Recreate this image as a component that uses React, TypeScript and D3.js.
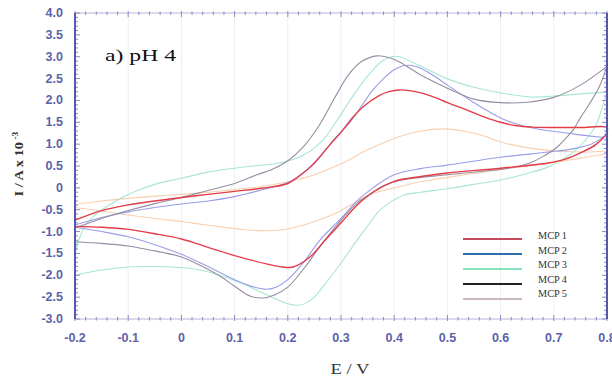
import React from "react";
import * as d3 from "d3";

// ---- data (E in V, I in A x 10^-3) ----
const E_TICKS = [-0.2, -0.1, 0, 0.1, 0.2, 0.3, 0.4, 0.5, 0.6, 0.7, 0.8];
const E_LABELS = ["-0.2", "-0.1", "0", "0.1", "0.2", "0.3", "0.4", "0.5", "0.6", "0.7", "0.8"];
const I_TICKS = [4, 3.5, 3, 2.5, 2, 1.5, 1, 0.5, 0, -0.5, -1, -1.5, -2, -2.5, -3];
const I_LABELS = ["4.0", "3.5", "3.0", "2.5", "2.0", "1.5", "1.0", "0.5", "0", "-0.5", "-1.0", "-1.5", "-2.0", "-2.5", "-3.0"];

const SERIES_NAMES = ["MCP 1", "MCP 2", "MCP 3", "MCP 4", "MCP 5"];

const mcp1Forward = [[-0.2,-0.74],[-0.15,-0.52],[-0.1,-0.39],[-0.05,-0.3],[0,-0.22],[0.05,-0.15],[0.1,-0.08],[0.15,-0.01],[0.2,0.1],[0.23,0.35],[0.255,0.64],[0.28,1.0],[0.3,1.27],[0.32,1.58],[0.341,1.85],[0.37,2.1],[0.39,2.2],[0.41,2.24],[0.44,2.2],[0.47,2.1],[0.5,1.95],[0.537,1.78],[0.57,1.62],[0.6,1.5],[0.63,1.42],[0.66,1.39],[0.7,1.38],[0.75,1.38],[0.8,1.38]];
const mcp1Reverse = [[0.8,1.28],[0.78,1.0],[0.75,0.8],[0.72,0.65],[0.69,0.57],[0.6,0.45],[0.5,0.34],[0.45,0.26],[0.4,0.15],[0.36,-0.1],[0.33,-0.4],[0.3,-0.8],[0.27,-1.2],[0.24,-1.6],[0.21,-1.81],[0.19,-1.81],[0.16,-1.74],[0.1,-1.55],[0.05,-1.36],[0,-1.17],[-0.05,-1.05],[-0.1,-0.95],[-0.15,-0.9],[-0.2,-0.88]];

const mcp2Forward = [[-0.2,-0.85],[-0.15,-0.68],[-0.1,-0.55],[-0.05,-0.45],[0,-0.37],[0.05,-0.3],[0.1,-0.2],[0.15,-0.05],[0.2,0.12],[0.23,0.35],[0.25,0.55],[0.27,0.85],[0.29,1.15],[0.317,1.5],[0.34,1.9],[0.36,2.24],[0.38,2.5],[0.4,2.7],[0.42,2.8],[0.44,2.78],[0.47,2.6],[0.5,2.35],[0.537,2.05],[0.57,1.8],[0.6,1.6],[0.63,1.46],[0.66,1.37],[0.72,1.26],[0.8,1.17]];
const mcp2Reverse = [[0.8,1.2],[0.77,1.0],[0.73,0.88],[0.69,0.82],[0.6,0.7],[0.5,0.52],[0.45,0.44],[0.4,0.3],[0.36,0.0],[0.33,-0.3],[0.3,-0.7],[0.26,-1.2],[0.23,-1.7],[0.2,-2.1],[0.18,-2.26],[0.16,-2.32],[0.14,-2.28],[0.1,-2.1],[0.05,-1.8],[0,-1.52],[-0.05,-1.3],[-0.1,-1.12],[-0.15,-1.0],[-0.2,-0.9]];

const mcp3Forward = [[-0.2,-1.5],[-0.19,-1.1],[-0.18,-0.85],[-0.16,-0.6],[-0.13,-0.35],[-0.1,-0.15],[-0.05,0.08],[0,0.22],[0.05,0.36],[0.1,0.45],[0.15,0.52],[0.19,0.58],[0.23,0.75],[0.266,1.09],[0.29,1.5],[0.317,2.0],[0.34,2.4],[0.355,2.63],[0.375,2.88],[0.395,3.0],[0.41,3.0],[0.45,2.78],[0.505,2.47],[0.55,2.3],[0.6,2.17],[0.66,2.08],[0.7,2.1],[0.75,2.15],[0.8,2.19]];
const mcp3Reverse = [[0.8,2.19],[0.79,1.8],[0.78,1.45],[0.76,1.1],[0.74,0.85],[0.72,0.68],[0.69,0.48],[0.65,0.33],[0.6,0.18],[0.55,0.08],[0.5,-0.02],[0.45,-0.1],[0.42,-0.16],[0.39,-0.35],[0.37,-0.55],[0.354,-0.81],[0.33,-1.2],[0.3,-1.72],[0.27,-2.2],[0.245,-2.55],[0.223,-2.68],[0.2,-2.65],[0.17,-2.5],[0.142,-2.34],[0.1,-2.12],[0.05,-1.92],[0.016,-1.84],[-0.05,-1.8],[-0.1,-1.81],[-0.15,-1.88],[-0.2,-2.0]];

const mcp4Forward = [[-0.2,-0.92],[-0.15,-0.7],[-0.1,-0.52],[-0.05,-0.36],[0,-0.22],[0.05,-0.06],[0.1,0.1],[0.142,0.3],[0.17,0.42],[0.2,0.62],[0.23,0.95],[0.26,1.45],[0.29,2.1],[0.315,2.6],[0.34,2.9],[0.368,3.02],[0.39,2.98],[0.41,2.88],[0.45,2.58],[0.5,2.28],[0.55,2.03],[0.6,1.95],[0.65,1.96],[0.7,2.07],[0.75,2.35],[0.8,2.78]];
const mcp4Reverse = [[0.8,2.78],[0.785,2.3],[0.768,1.94],[0.75,1.6],[0.736,1.32],[0.72,1.1],[0.706,0.93],[0.68,0.72],[0.655,0.57],[0.62,0.46],[0.6,0.42],[0.5,0.3],[0.41,0.17],[0.38,0.05],[0.36,-0.1],[0.33,-0.35],[0.3,-0.74],[0.26,-1.35],[0.23,-1.85],[0.2,-2.27],[0.175,-2.45],[0.153,-2.52],[0.13,-2.48],[0.1,-2.25],[0.07,-2.0],[0.035,-1.77],[0,-1.58],[-0.06,-1.42],[-0.1,-1.33],[-0.15,-1.27],[-0.2,-1.24]];

const mcp5Forward = [[-0.2,-0.38],[-0.15,-0.3],[-0.1,-0.24],[-0.05,-0.19],[0,-0.15],[0.05,-0.1],[0.1,-0.04],[0.15,0.03],[0.2,0.14],[0.25,0.3],[0.3,0.55],[0.35,0.87],[0.4,1.13],[0.45,1.3],[0.49,1.35],[0.53,1.3],[0.57,1.18],[0.6,1.05],[0.65,0.92],[0.7,0.85],[0.75,0.82],[0.8,0.82]];
const mcp5Reverse = [[0.8,0.8],[0.75,0.68],[0.7,0.58],[0.65,0.5],[0.6,0.42],[0.55,0.33],[0.5,0.24],[0.45,0.14],[0.4,0.0],[0.36,-0.13],[0.32,-0.38],[0.29,-0.58],[0.266,-0.7],[0.23,-0.85],[0.2,-0.94],[0.16,-0.98],[0.12,-0.96],[0.08,-0.9],[0.04,-0.84],[0,-0.77],[-0.05,-0.7],[-0.1,-0.62],[-0.15,-0.53],[-0.2,-0.45]];

const CURVE_COLORS = ["#e33c46", "#9a9ee8", "#a9e6d0", "#958ea2", "#f8d0b0"];
const CURVE_WIDTHS = [1.4, 1.1, 1.1, 1.1, 1.1];
const LEGEND_COLORS = ["#c8485e", "#2e6eaa", "#86e2b8", "#222222", "#c9b9b9"];
const DRAW_ORDER = [4, 2, 1, 3, 0];

export default function App() {
  const W = 612, H = 383;
  const x = d3.scaleLinear().domain([-0.2, 0.8]).range([75, 607]);
  const y = d3.scaleLinear().domain([-3, 4]).range([319, 13]);
  const loops = [
    mcp1Forward.concat(mcp1Reverse),
    mcp2Forward.concat(mcp2Reverse),
    mcp3Forward.concat(mcp3Reverse),
    mcp4Forward.concat(mcp4Reverse),
    mcp5Forward.concat(mcp5Reverse),
  ];
  const line = d3
    .line<number[]>()
    .x((d) => x(d[0]))
    .y((d) => y(d[1]))
    .curve(d3.curveCatmullRom.alpha(0.5));

  const minorX = d3.range(-0.2, 0.8001, 0.02);
  const minorY = d3.range(-3, 4.0001, 0.1);
  const axisCol = "#5656ad";
  const tickCol = "#8a8ac4";
  const labelCol = "#5d61a8";
  const sans = "'Liberation Sans', Arial, sans-serif";
  const serif = "'Liberation Serif', 'Times New Roman', serif";
  const [x0, x1] = x.range();
  const [y0, y1] = [y(4), y(-3)];

  return (
    <svg width={W} height={H} style={{ position: "absolute", left: 0, top: 0, background: "#fff" }}>
      <rect x={0} y={0} width={W} height={H} fill="#fff" />
      {/* faint grid */}
      {E_TICKS.slice(1, -1).map((t) => (
        <line key={"g" + t} x1={x(t)} x2={x(t)} y1={y0} y2={y1} stroke="#eeeef6" strokeWidth={1} />
      ))}
      {/* curves */}
      {DRAW_ORDER.map((i) => (
        <path key={"c" + i} d={line(loops[i] as any) || ""} fill="none" stroke={CURVE_COLORS[i]} strokeWidth={CURVE_WIDTHS[i]} strokeLinejoin="round" />
      ))}
      {/* top & bottom frame */}
      <line x1={x0} x2={x1} y1={y0} y2={y0} stroke="#b4b4da" strokeWidth={1} />
      <line x1={x0} x2={x1} y1={y1} y2={y1} stroke="#b4b4da" strokeWidth={1} />
      {minorX.map((t, k) => {
        const major = k % 5 === 0;
        return (
          <g key={"tx" + k}>
            <line x1={x(t)} x2={x(t)} y1={y0 - (major ? 2 : 1.5)} y2={y0 + (major ? 4 : 2)} stroke={tickCol} strokeWidth={1} />
            <line x1={x(t)} x2={x(t)} y1={y1 + (major ? 2 : 1.5)} y2={y1 - (major ? 4 : 2)} stroke={tickCol} strokeWidth={1} />
          </g>
        );
      })}
      {/* left & right axes */}
      {minorY.map((t, k) => {
        const major = k % 5 === 0;
        return (
          <g key={"ty" + k}>
            <line x1={x0} x2={x0 + (major ? 5 : 3)} y1={y(t)} y2={y(t)} stroke={tickCol} strokeWidth={1} />
            <line x1={x1} x2={x1 - (major ? 5 : 3)} y1={y(t)} y2={y(t)} stroke={tickCol} strokeWidth={1} />
          </g>
        );
      })}
      <line x1={x0} x2={x0} y1={y0} y2={y1} stroke={axisCol} strokeWidth={2} />
      <line x1={x1} x2={x1} y1={y0} y2={y1} stroke={axisCol} strokeWidth={2} />
      {/* tick labels */}
      {I_TICKS.map((t, k) => (
        <text key={"ly" + k} x={63} y={y(t) + 4} textAnchor="end" fontFamily={sans} fontSize={12.5} fontWeight="bold" fill={labelCol}>
          {I_LABELS[k]}
        </text>
      ))}
      {E_TICKS.map((t, k) => (
        <text key={"lx" + k} x={x(t)} y={342} textAnchor="middle" fontFamily={sans} fontSize={12.5} fontWeight="bold" fill={labelCol}>
          {E_LABELS[k]}
        </text>
      ))}
      {/* titles */}
      <text x={350} y={374} textAnchor="middle" fontFamily={serif} fontSize={15} fill="#333" textLength={39} lengthAdjust="spacingAndGlyphs">
        E / V
      </text>
      <text transform="translate(23,164) rotate(-90) scale(1.2,1)" textAnchor="middle" fontFamily={serif} fontSize={12} fontWeight="bold" fill="#333">
        I / A x 10<tspan fontSize={8} dy={-5}> -3</tspan>
      </text>
      <text x={105} y={61} fontFamily={serif} fontSize={17} fill="#111" textLength={71} lengthAdjust="spacingAndGlyphs">
        a) pH 4
      </text>
      {/* legend */}
      {SERIES_NAMES.map((name, i) => (
        <g key={"lg" + i}>
          <line x1={463} x2={522} y1={239 + i * 15} y2={239 + i * 15} stroke={LEGEND_COLORS[i]} strokeWidth={2.2} />
          <text x={538} y={239 + i * 14.5} fontFamily={serif} fontSize={11} fill="#333" textLength={29} lengthAdjust="spacingAndGlyphs">
            {name}
          </text>
        </g>
      ))}
    </svg>
  );
}
